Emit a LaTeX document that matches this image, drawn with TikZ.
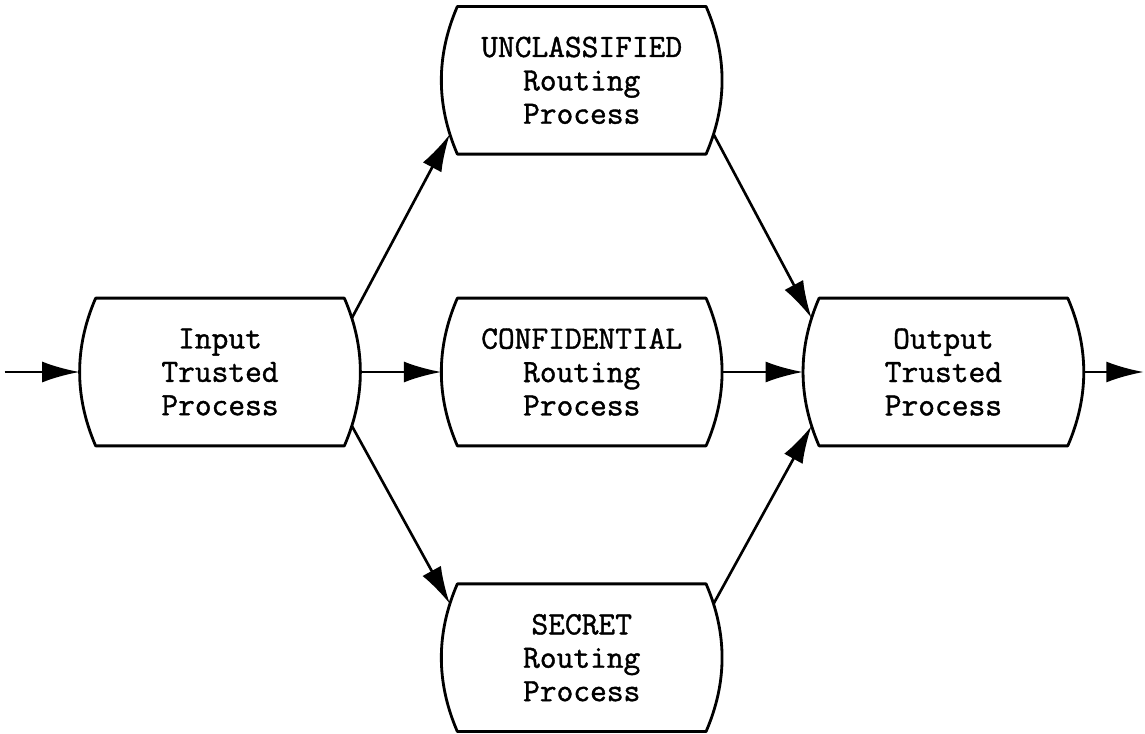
\documentclass[tikz,border=0pt]{standalone}
\usepackage{fontspec}
\newfontfamily\procfont{Latin Modern Mono}[FakeBold=1.2]
\usepackage{tikz}
\usetikzlibrary{positioning}
\usetikzlibrary{arrows.meta}
\begin{document}
\begin{tikzpicture}[
  node distance=2.88cm and 1.62cm,
  proc/.style={minimum width=5.6cm,minimum height=2.94cm,align=center,
    font=\procfont\fontsize{18.5}{19}\selectfont},
  outline/.style={line width=1.6pt,line join=round},
  flow/.style={line width=1.5pt,-{Latex[length=7.5mm,width=4.2mm]}}
]
\useasboundingbox (-4.4,7.44) rectangle (18.5,-7.22);

\node[proc] (input) {Input\\Trusted\\Process};
\node[proc,right=of input] (conf) {CONFIDENTIAL\\Routing\\Process};
\node[proc,above=of conf] (uncl) {UNCLASSIFIED\\Routing\\Process};
\node[proc,below=2.76cm of conf] (secret) {SECRET\\Routing\\Process};
\node[proc,right=of conf] (output) {Output\\Trusted\\Process};

% box outlines with bulging sides
\foreach \n in {input,conf,uncl,secret,output}
  \draw[outline] ([xshift=0.32cm]\n.north west) -- ([xshift=-0.32cm]\n.north east)
    .. controls ([shift={(0.107cm,0.49cm)}]\n.east) and ([shift={(0.107cm,-0.49cm)}]\n.east)
    .. ([xshift=-0.32cm]\n.south east)
    -- ([xshift=0.32cm]\n.south west)
    .. controls ([shift={(-0.107cm,-0.49cm)}]\n.west) and ([shift={(-0.107cm,0.49cm)}]\n.west)
    .. cycle;

\coordinate[left=1.5cm of input.west] (in);
\coordinate[right=1.2cm of output.east] (out);

\draw[flow] (in) -- (input);
\draw[flow] ([xshift=-0.17cm]input.21) -- ([xshift=0.17cm]uncl.201);
\draw[flow] (input) -- (conf);
\draw[flow] ([xshift=-0.17cm]input.339) -- ([xshift=0.17cm]secret.159);
\draw[flow] ([xshift=-0.17cm]uncl.339) -- ([xshift=0.17cm]output.159);
\draw[flow] (conf) -- (output);
\draw[flow] ([xshift=-0.17cm]secret.21) -- ([xshift=0.17cm]output.201);
\draw[flow] (output) -- (out);

\end{tikzpicture}
\end{document}
